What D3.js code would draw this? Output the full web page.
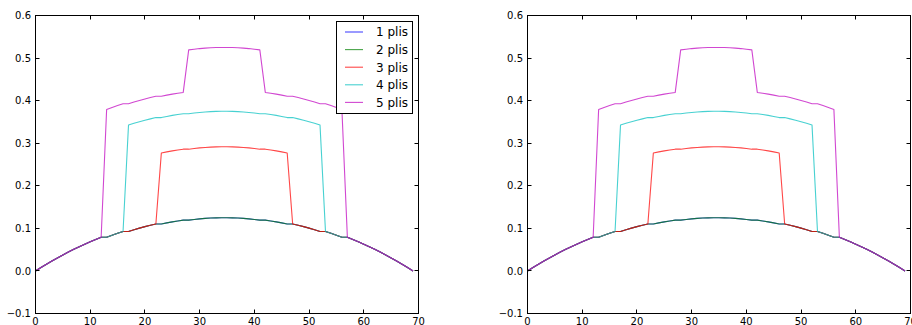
<!DOCTYPE html>
<html>
<head>
<meta charset="utf-8">
<script src="https://cdn.jsdelivr.net/npm/d3@7"></script>
<style>
  html, body { margin: 0; padding: 0; background: #fff; }
  svg { display: block; }
  text { font-family: "DejaVu Sans", sans-serif; fill: #000; }
</style>
</head>
<body>
<svg id="chart" width="912" height="325"></svg>
<script>
// ---- data ----
const seriesNames = ["1 plis", "2 plis", "3 plis", "4 plis", "5 plis"];
const seriesColors = ["#0000ff", "#008000", "#ff0000", "#00bfbf", "#bf00bf"];
const xValues = d3.range(70); // positions 0..69

const plis1 = [0,0.0081,0.0159,0.0234,0.0306,0.0376,0.0443,0.0508,0.0570,0.0629,0.0685,0.0739,0.0790,0.0790,0.0839,0.0884,0.0927,0.0927,0.0968,0.1005,0.1040,0.1072,0.1102,0.1102,0.1129,0.1153,0.1174,0.1193,0.1193,0.1209,0.1223,0.1234,0.1242,0.1247,0.1250,0.1250,0.1247,0.1242,0.1234,0.1223,0.1209,0.1193,0.1193,0.1174,0.1153,0.1129,0.1102,0.1102,0.1072,0.1040,0.1005,0.0968,0.0927,0.0927,0.0884,0.0839,0.0790,0.0790,0.0739,0.0685,0.0629,0.0570,0.0508,0.0443,0.0376,0.0306,0.0234,0.0159,0.0081,0];
const plis2 = [0,0.0081,0.0159,0.0234,0.0306,0.0376,0.0443,0.0508,0.0570,0.0629,0.0685,0.0739,0.0790,0.0790,0.0839,0.0884,0.0927,0.0927,0.0968,0.1005,0.1040,0.1072,0.1102,0.1102,0.1129,0.1153,0.1174,0.1193,0.1193,0.1209,0.1223,0.1234,0.1242,0.1247,0.1250,0.1250,0.1247,0.1242,0.1234,0.1223,0.1209,0.1193,0.1193,0.1174,0.1153,0.1129,0.1102,0.1102,0.1072,0.1040,0.1005,0.0968,0.0927,0.0927,0.0884,0.0839,0.0790,0.0790,0.0739,0.0685,0.0629,0.0570,0.0508,0.0443,0.0376,0.0306,0.0234,0.0159,0.0081,0];
const plis3 = [0,0.0081,0.0159,0.0234,0.0306,0.0376,0.0443,0.0508,0.0570,0.0629,0.0685,0.0739,0.0790,0.0790,0.0839,0.0884,0.0927,0.0927,0.0968,0.1005,0.1040,0.1072,0.1102,0.2769,0.2796,0.2820,0.2841,0.2860,0.2860,0.2876,0.2890,0.2901,0.2909,0.2914,0.2917,0.2917,0.2914,0.2909,0.2901,0.2890,0.2876,0.2860,0.2860,0.2841,0.2820,0.2796,0.2769,0.1102,0.1072,0.1040,0.1005,0.0968,0.0927,0.0927,0.0884,0.0839,0.0790,0.0790,0.0739,0.0685,0.0629,0.0570,0.0508,0.0443,0.0376,0.0306,0.0234,0.0159,0.0081,0];
const plis4 = [0,0.0081,0.0159,0.0234,0.0306,0.0376,0.0443,0.0508,0.0570,0.0629,0.0685,0.0739,0.0790,0.0790,0.0839,0.0884,0.0927,0.3427,0.3468,0.3505,0.3540,0.3572,0.3602,0.3602,0.3629,0.3653,0.3674,0.3693,0.3693,0.3709,0.3723,0.3734,0.3742,0.3747,0.3750,0.3750,0.3747,0.3742,0.3734,0.3723,0.3709,0.3693,0.3693,0.3674,0.3653,0.3629,0.3602,0.3602,0.3572,0.3540,0.3505,0.3468,0.3427,0.0927,0.0884,0.0839,0.0790,0.0790,0.0739,0.0685,0.0629,0.0570,0.0508,0.0443,0.0376,0.0306,0.0234,0.0159,0.0081,0];
const plis5 = [0,0.0081,0.0159,0.0234,0.0306,0.0376,0.0443,0.0508,0.0570,0.0629,0.0685,0.0739,0.0790,0.3790,0.3839,0.3884,0.3927,0.3927,0.3968,0.4005,0.4040,0.4072,0.4102,0.4102,0.4129,0.4153,0.4174,0.4193,0.5193,0.5209,0.5223,0.5234,0.5242,0.5247,0.5250,0.5250,0.5247,0.5242,0.5234,0.5223,0.5209,0.5193,0.4193,0.4174,0.4153,0.4129,0.4102,0.4102,0.4072,0.4040,0.4005,0.3968,0.3927,0.3927,0.3884,0.3839,0.3790,0.0790,0.0739,0.0685,0.0629,0.0570,0.0508,0.0443,0.0376,0.0306,0.0234,0.0159,0.0081,0];

const xTicks = [0, 10, 20, 30, 40, 50, 60, 70];
const xTickLabels = ["0", "10", "20", "30", "40", "50", "60", "70"];
const yTicks = [-0.1, 0.0, 0.1, 0.2, 0.3, 0.4, 0.5, 0.6];
const yTickLabels = ["\u22120.1", "0.0", "0.1", "0.2", "0.3", "0.4", "0.5", "0.6"];

const allSeries = [plis1, plis2, plis3, plis4, plis5];

// ---- drawing ----
(function () {
  const svg = d3.select("#chart");
  const panels = [
    { left: 35.5, right: 418.5, legend: true },
    { left: 527.5, right: 910.5, legend: false }
  ];
  const plotTop = 15.5, plotBottom = 313.5;
  const tickLen = 4;

  panels.forEach(p => {
    const x = d3.scaleLinear().domain([0, 70]).range([p.left, p.right]);
    const y = d3.scaleLinear().domain([-0.1, 0.6]).range([plotBottom, plotTop]);
    const g = svg.append("g");

    // lines
    const line = d3.line().x((d, i) => x(xValues[i])).y(d => y(d));
    allSeries.forEach((s, k) => {
      g.append("path")
        .datum(s)
        .attr("d", line)
        .attr("fill", "none")
        .attr("stroke", seriesColors[k])
        .attr("stroke-opacity", 0.72)
        .attr("stroke-width", 1.1)
        .attr("stroke-linejoin", "round");
    });

    // frame
    g.append("rect")
      .attr("x", p.left).attr("y", plotTop)
      .attr("width", p.right - p.left).attr("height", plotBottom - plotTop)
      .attr("fill", "none").attr("stroke", "#000").attr("stroke-width", 1);

    // ticks (inward, all four sides)
    xTicks.forEach((t, i) => {
      const xp = Math.round(x(t) - 0.5) + 0.5;
      g.append("line").attr("x1", xp).attr("x2", xp).attr("y1", plotBottom).attr("y2", plotBottom - tickLen)
        .attr("stroke", "#000").attr("stroke-width", 1);
      g.append("line").attr("x1", xp).attr("x2", xp).attr("y1", plotTop).attr("y2", plotTop + tickLen)
        .attr("stroke", "#000").attr("stroke-width", 1);
      g.append("text").attr("x", x(t)).attr("y", plotBottom + 11)
        .attr("text-anchor", "middle").attr("font-size", 10)
        .text(xTickLabels[i]);
    });
    yTicks.forEach((t, i) => {
      const yp = Math.round(y(t) - 0.5) + 0.5;
      g.append("line").attr("x1", p.left).attr("x2", p.left + tickLen).attr("y1", yp).attr("y2", yp)
        .attr("stroke", "#000").attr("stroke-width", 1);
      g.append("line").attr("x1", p.right).attr("x2", p.right - tickLen).attr("y1", yp).attr("y2", yp)
        .attr("stroke", "#000").attr("stroke-width", 1);
      g.append("text").attr("x", p.left - 4.5).attr("y", y(t) + 3.6)
        .attr("text-anchor", "end").attr("font-size", 10)
        .text(yTickLabels[i]);
    });

    // legend
    if (p.legend) {
      const lg = g.append("g");
      lg.append("rect").attr("x", 336.5).attr("y", 21.5).attr("width", 76).attr("height", 92)
        .attr("fill", "#fff").attr("stroke", "#000").attr("stroke-width", 1);
      seriesNames.forEach((name, k) => {
        const cy = 32 + k * 17.6;
        lg.append("line").attr("x1", 345).attr("x2", 363).attr("y1", cy).attr("y2", cy)
          .attr("stroke", seriesColors[k]).attr("stroke-opacity", 0.72).attr("stroke-width", 1.1);
        lg.append("text").attr("x", 376).attr("y", cy + 4.4).attr("font-size", 12).text(name);
      });
    }
  });
})();
</script>
</body>
</html>
